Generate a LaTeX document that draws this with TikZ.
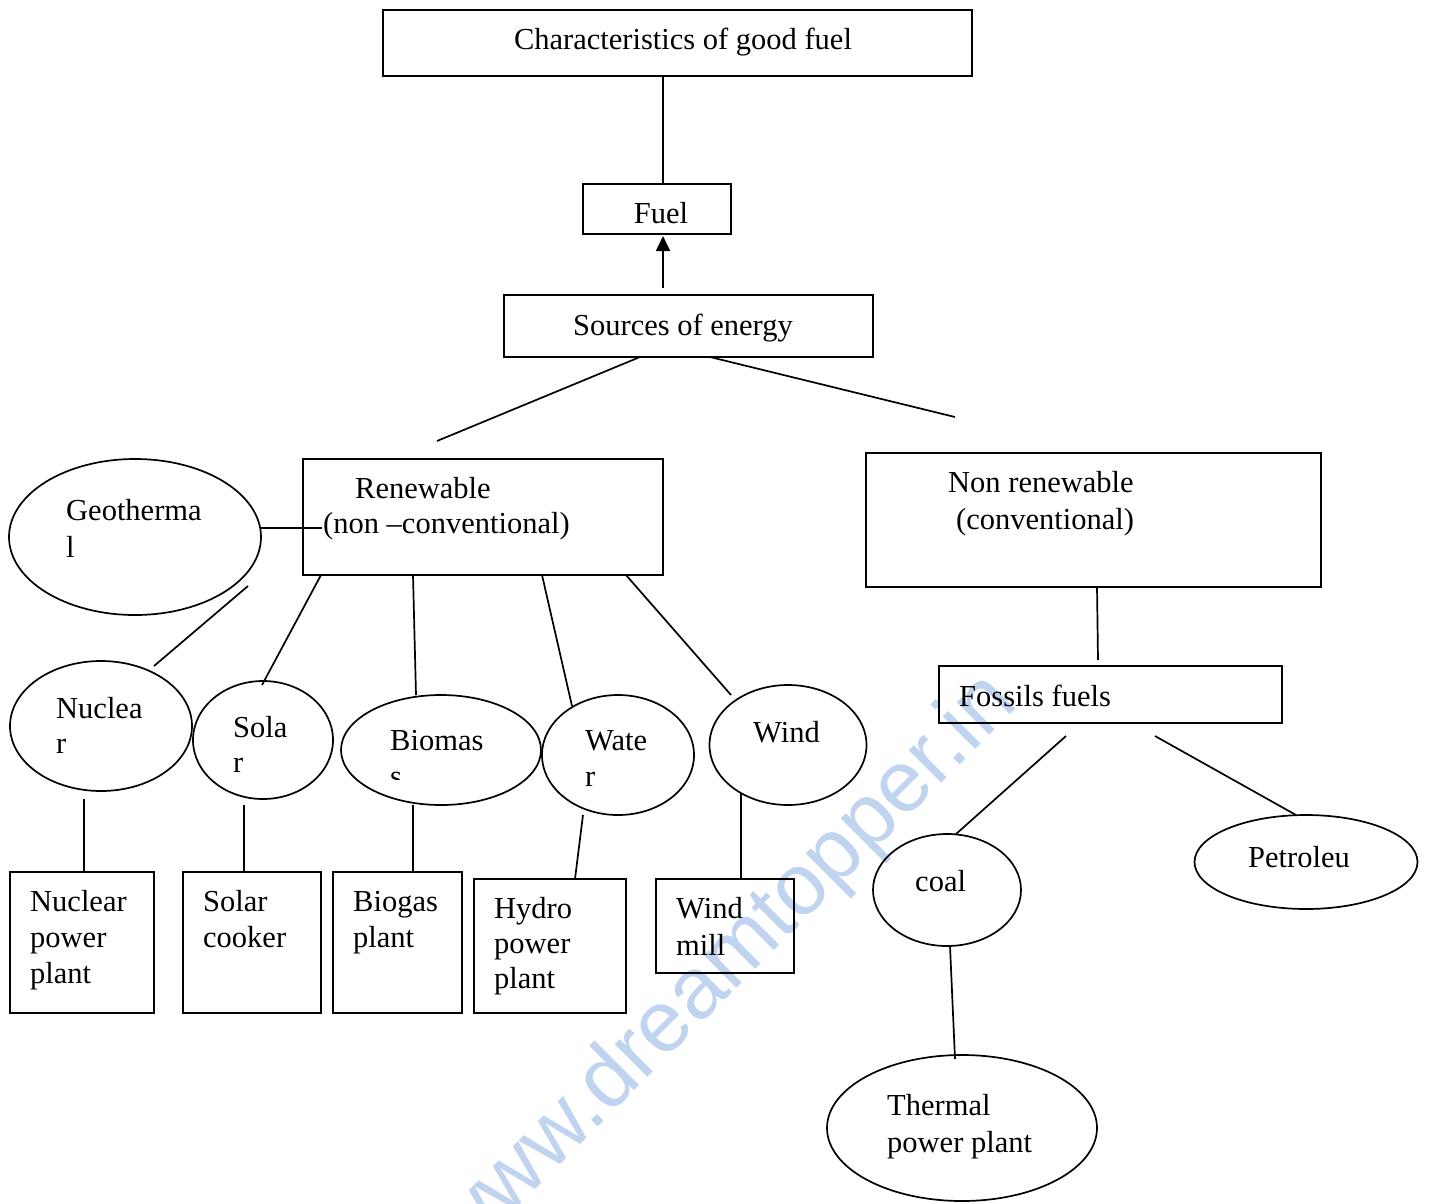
\documentclass[tikz,border=0pt]{standalone}
\usepackage{fontspec}
\setmainfont{Liberation Serif}
\newfontfamily\wmfont{Liberation Sans}
\usetikzlibrary{shapes.geometric,arrows.meta}
\newcommand\dfont{\fontsize{30.5}{37}\selectfont}
\definecolor{wmblue}{RGB}{192,212,239}
\tikzset{
  box/.style={draw, line width=1.7pt, inner sep=0pt},
  oval/.style={ellipse, draw, line width=1.7pt, inner sep=0pt},
  lbl/.style={anchor=base west, inner sep=0pt, font=\dfont},
  clbl/.style={anchor=base, inner sep=0pt, font=\dfont},
  conn/.style={line width=1.7pt},
}
\begin{document}
\begin{tikzpicture}[x=1pt,y=-1pt]
\useasboundingbox[fill=white] (0,0) rectangle (1429,1203);

% watermark
\node[anchor=base, rotate=45, inner sep=0pt, text=wmblue, font=\wmfont\fontsize{87}{87}\selectfont] (wmk) at (741,984) {www.dreamtopper.in};

% boxes
\node[box, minimum width=589pt, minimum height=66pt] (top) at (677.5,43) {};
\node[box, minimum width=148pt, minimum height=50pt] (fuel) at (657,209) {};
\node[box, minimum width=369pt, minimum height=62pt] (src) at (688.5,326) {};
\node[box, minimum width=360pt, minimum height=116pt] (ren) at (483,517) {};
\node[box, minimum width=455pt, minimum height=134pt] (nonren) at (1093.5,520) {};
\node[box, minimum width=343pt, minimum height=57pt] (fossil) at (1110.5,694.5) {};
\node[box, minimum width=144pt, minimum height=141pt] (npp) at (82,942.5) {};
\node[box, minimum width=138pt, minimum height=141pt] (scook) at (252,942.5) {};
\node[box, minimum width=129pt, minimum height=141pt] (bgp) at (397.5,942.5) {};
\node[box, minimum width=152pt, minimum height=134pt] (hpp) at (550,946) {};
\node[box, minimum width=138pt, minimum height=94pt] (wmill) at (725,926) {};

% ellipses
\node[oval, minimum width=252pt, minimum height=156pt] (geo) at (135,537) {};
\node[oval, minimum width=182pt, minimum height=130pt] (nuc) at (101,726) {};
\node[oval, minimum width=140pt, minimum height=118pt] (sol) at (263,740) {};
\node[oval, minimum width=200pt, minimum height=110pt] (bio) at (441,750) {};
\node[oval, minimum width=152pt, minimum height=120pt] (wat) at (618,755) {};
\node[oval, minimum width=157pt, minimum height=120pt] (wind) at (788,745) {};
\node[oval, minimum width=148pt, minimum height=112pt] (coal) at (947,890) {};
\node[oval, minimum width=223pt, minimum height=94pt] (pet) at (1306,862) {};
\node[oval, minimum width=270pt, minimum height=146pt] (tpp) at (962,1128) {};

% texts
\node[clbl] (ttop) at (683,49) {Characteristics of good fuel};
\node[clbl] (tfuel) at (661,223) {Fuel};
\node[clbl] (tsrc) at (683,335) {Sources of energy};
\node[lbl] (tren1) at (355,498) {Renewable};
\node[lbl] (tren2) at (323,533) {(non –conventional)};
\node[lbl] (tnon1) at (948,492) {Non renewable};
\node[lbl] (tnon2) at (956,529) {(conventional)};
\node[lbl] (tgeo1) at (66,520) {Geotherma};
\node[lbl] (tgeo2) at (66,557) {l};
\node[lbl] (tnuc1) at (56,718) {Nuclea};
\node[lbl] (tnuc2) at (56,753) {r};
\node[lbl] (tsol1) at (233,737) {Sola};
\node[lbl] (tsol2) at (233,772) {r};
\node[lbl] (tbio1) at (390,750) {Biomas};
\begin{scope}
  \clip (380,740) rectangle (420,779);
  \node[lbl] (tbio2) at (390,786) {s};
\end{scope}
\node[lbl] (twat1) at (585,750) {Wate};
\node[lbl] (twat2) at (585,786) {r};
\node[lbl] (twind) at (753,742) {Wind};
\node[lbl] (tnpp1) at (30,911) {Nuclear};
\node[lbl] (tnpp2) at (30,947) {power};
\node[lbl] (tnpp3) at (30,983) {plant};
\node[lbl] (tsc1) at (203,911) {Solar};
\node[lbl] (tsc2) at (203,947) {cooker};
\node[lbl] (tbg1) at (353,911) {Biogas};
\node[lbl] (tbg2) at (353,947) {plant};
\node[lbl] (thp1) at (494,918) {Hydro};
\node[lbl] (thp2) at (494,953) {power};
\node[lbl] (thp3) at (494,988) {plant};
\node[lbl] (twm1) at (676,918) {Wind};
\node[lbl] (twm2) at (676,955) {mill};
\node[lbl] (tfos) at (959,706) {Fossils fuels};
\node[lbl] (tcoal) at (915,891) {coal};
\node[lbl] (tpet) at (1248,867) {Petroleu};
\node[lbl] (ttp1) at (887,1115) {Thermal};
\node[lbl] (ttp2) at (887,1152) {power plant};

% connector end points
\coordinate (p1) at (663,76);   \coordinate (q1) at (663,184);
\coordinate (a1) at (663,288);  \coordinate (a2) at (663,236);
\coordinate (p2) at (640,357);  \coordinate (q2) at (437,441);
\coordinate (p3) at (710,357);  \coordinate (q3) at (955,417);
\coordinate (p4) at (261,528);  \coordinate (q4) at (322,528);
\coordinate (p5) at (248,586);  \coordinate (q5) at (154,666);
\coordinate (p6) at (321,575);  \coordinate (q6) at (262,685);
\coordinate (p7) at (413,575);  \coordinate (q7) at (416,695);
\coordinate (p8) at (542,575);  \coordinate (q8) at (572,706);
\coordinate (p9) at (626,575);  \coordinate (q9) at (731,695);
\coordinate (p10) at (84,799);  \coordinate (q10) at (84,872);
\coordinate (p11) at (244,805); \coordinate (q11) at (244,872);
\coordinate (p12) at (413,805); \coordinate (q12) at (413,872);
\coordinate (p13) at (583,815); \coordinate (q13) at (575,879);
\coordinate (p14) at (741,793); \coordinate (q14) at (741,879);
\coordinate (p15) at (1097,587); \coordinate (q15) at (1098,660);
\coordinate (p16) at (1066,736); \coordinate (q16) at (956,834);
\coordinate (p17) at (1155,736); \coordinate (q17) at (1296,815);
\coordinate (p18) at (950,946); \coordinate (q18) at (955,1059);

\draw[conn] (p1) -- (q1);
\draw[conn, -{Triangle[length=15pt,width=14pt]}] (a1) -- (a2);
\foreach \i in {2,...,18} { \draw[conn] (p\i) -- (q\i); }
\end{tikzpicture}
\end{document}
